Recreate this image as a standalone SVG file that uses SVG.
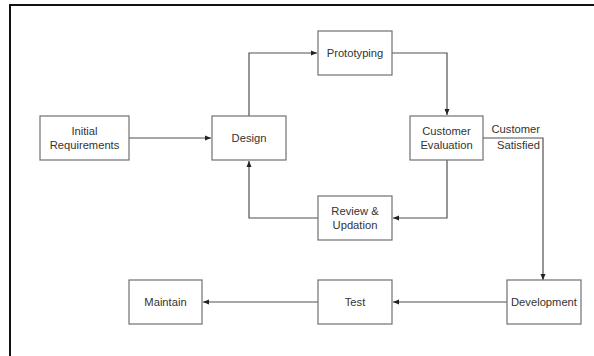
<svg xmlns="http://www.w3.org/2000/svg" width="594" height="356" viewBox="0 0 594 356">
<style>
.box{fill:#fff;stroke:#707070;stroke-width:1.2}
.lbl{font-family:"Liberation Sans",Arial,sans-serif;font-size:11.2px;fill:#333;text-anchor:middle}
.con{fill:none;stroke:#505050;stroke-width:1.2}
</style>
<defs>
<marker id="ah" viewBox="0 0 6 6" refX="6" refY="3" markerWidth="6" markerHeight="6" markerUnits="userSpaceOnUse" orient="auto">
<path d="M0,0.5 L6,3 L0,5.5 Z" fill="#222"/>
</marker>
</defs>
<rect x="0" y="0" width="594" height="356" fill="#fff"/>
<rect x="10" y="5" width="620" height="400" fill="none" stroke="#111" stroke-width="2"/>
<g id="connectors">
<path class="con" d="M129,138 H211" marker-end="url(#ah)"/>
<path class="con" d="M249,116 V53 H317" marker-end="url(#ah)"/>
<path class="con" d="M392,53 H447 V115" marker-end="url(#ah)"/>
<path class="con" d="M447,160 V218 H393" marker-end="url(#ah)"/>
<path class="con" d="M318,218 H249 V161" marker-end="url(#ah)"/>
<path class="con" d="M483,138 H543 V280" marker-end="url(#ah)"/>
<path class="con" d="M507,302 H393" marker-end="url(#ah)"/>
<path class="con" d="M318,302 H203" marker-end="url(#ah)"/>
<text class="lbl" x="540" y="133" style="text-anchor:end">Customer</text>
<text class="lbl" x="540" y="149" style="text-anchor:end">Satisfied</text>
</g>
<g id="initial"><rect class="box" x="40" y="116" width="89" height="44"/><text class="lbl" x="84.5" y="135">Initial</text><text class="lbl" x="84.5" y="149">Requirements</text></g>
<g id="design"><rect class="box" x="212" y="116" width="74" height="44"/><text class="lbl" x="249" y="142">Design</text></g>
<g id="prototyping"><rect class="box" x="318" y="31" width="74" height="44"/><text class="lbl" x="355" y="57">Prototyping</text></g>
<g id="evaluation"><rect class="box" x="410" y="116" width="73" height="44"/><text class="lbl" x="446.5" y="135">Customer</text><text class="lbl" x="446.5" y="149">Evaluation</text></g>
<g id="review"><rect class="box" x="318" y="196" width="74" height="44"/><text class="lbl" x="355" y="215">Review &amp;</text><text class="lbl" x="355" y="229">Updation</text></g>
<g id="maintain"><rect class="box" x="129" y="280" width="73" height="44"/><text class="lbl" x="165.5" y="306">Maintain</text></g>
<g id="test"><rect class="box" x="318" y="280" width="74" height="44"/><text class="lbl" x="355" y="306">Test</text></g>
<g id="development"><rect class="box" x="507" y="280" width="74" height="44"/><text class="lbl" x="544" y="306">Development</text></g>
</svg>
